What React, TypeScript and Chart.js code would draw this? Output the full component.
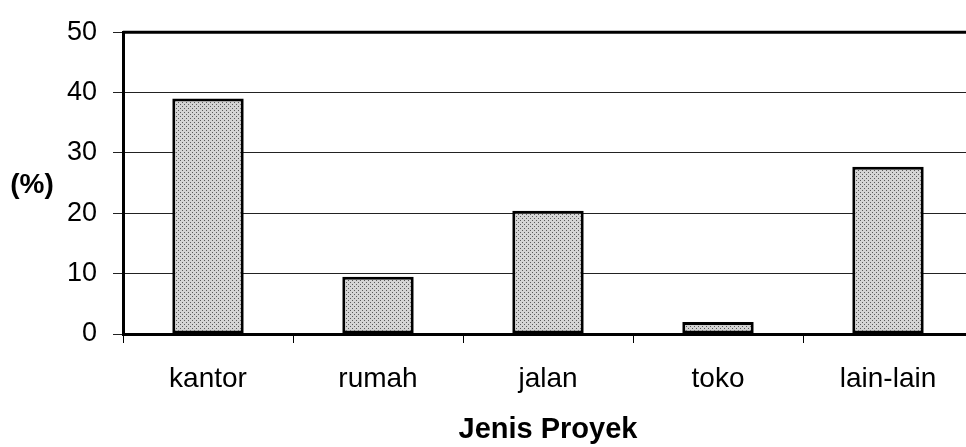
import React, { useEffect, useRef } from "react";
import { Chart, registerables } from "chart.js";

Chart.register(...registerables);

const categories = ["kantor", "rumah", "jalan", "toko", "lain-lain"];
const percentValues = [39.0, 9.5, 20.4, 2.0, 27.7];
const yTicks = [0, 10, 20, 30, 40, 50];
const xTitle = "Jenis Proyek";
const yTitle = "(%)";

const FONT = "'Liberation Sans', Arial, Helvetica, sans-serif";

function makePattern(): CanvasPattern | string {
  const c = document.createElement("canvas");
  c.width = 4;
  c.height = 4;
  const g = c.getContext("2d");
  if (!g) return "#c4c4c4";
  g.fillStyle = "#d4d4d4";
  g.fillRect(0, 0, 4, 4);
  g.fillStyle = "#5a5a5a";
  g.fillRect(0, 0, 1, 1);
  g.fillRect(2, 2, 1, 1);
  const p = g.createPattern(c, "repeat");
  return p || "#c4c4c4";
}

const yTitlePlugin = {
  id: "yTitleHoriz",
  afterDraw(chart: any) {
    const ctx = chart.ctx;
    const area = chart.chartArea;
    ctx.save();
    ctx.font = `bold 28px ${FONT}`;
    ctx.fillStyle = "#000";
    ctx.textAlign = "center";
    ctx.textBaseline = "middle";
    ctx.fillText(yTitle, 32, area.top + 153);
    ctx.restore();
  },
};

const topBorderPlugin = {
  id: "topBorder",
  afterDatasetsDraw(chart: any) {
    const ctx = chart.ctx;
    const a = chart.chartArea;
    ctx.save();
    ctx.strokeStyle = "#000";
    ctx.lineWidth = 3;
    ctx.beginPath();
    ctx.moveTo(a.left, a.top);
    ctx.lineTo(a.right, a.top);
    ctx.stroke();
    ctx.restore();
  },
};

export default function App() {
  const ref = useRef<HTMLCanvasElement | null>(null);

  useEffect(() => {
    document.body.style.margin = "0";
    document.body.style.overflow = "hidden";
    const canvas = ref.current;
    if (!canvas) return;
    const chart = new Chart(canvas, {
      type: "bar",
      data: {
        labels: categories,
        datasets: [
          {
            data: percentValues,
            backgroundColor: makePattern() as any,
            borderColor: "#000",
            borderWidth: 3,
            borderSkipped: false,
            categoryPercentage: 1,
            barPercentage: 0.42,
          },
        ],
      },
      plugins: [yTitlePlugin, topBorderPlugin],
      options: {
        animation: false,
        responsive: false,
        devicePixelRatio: 1,
        layout: { padding: { top: 29, right: 2, left: 0, bottom: 0 } },
        plugins: {
          legend: { display: false },
          tooltip: { enabled: false },
        },
        scales: {
          x: {
            offset: true,
            grid: {
              display: true,
              drawOnChartArea: false,
              drawTicks: true,
              tickLength: 9,
              color: "#000",
              lineWidth: 1,
              offset: true,
            },
            border: { display: true, color: "#000", width: 3 },
            ticks: {
              color: "#000",
              font: { family: FONT, size: 28 },
              padding: 19,
              maxRotation: 0,
            },
            title: {
              display: true,
              text: xTitle,
              color: "#000",
              font: { family: FONT, size: 29, weight: "bold" },
              padding: { top: 0, bottom: 0 },
            },
            afterFit: (scale: any) => {
              scale.height = 113;
            },
          },
          y: {
            min: 0,
            max: 50,
            afterBuildTicks: (scale: any) => {
              scale.ticks = yTicks.map((v) => ({ value: v }));
            },
            grid: {
              color: "#222",
              lineWidth: 1,
              tickLength: 10,
              drawTicks: true,
            },
            border: { display: true, color: "#000", width: 3 },
            ticks: {
              color: "#000",
              font: { family: FONT, size: 27 },
              padding: 16,
            },
            afterFit: (scale: any) => {
              scale.width = 123;
            },
          },
        },
      },
    });
    return () => chart.destroy();
  }, []);

  return (
    <div style={{ position: "fixed", left: 0, top: 0, width: 975, height: 447, background: "#fff" }}>
      <canvas ref={ref} width={975} height={447} style={{ display: "block" }} />
    </div>
  );
}
